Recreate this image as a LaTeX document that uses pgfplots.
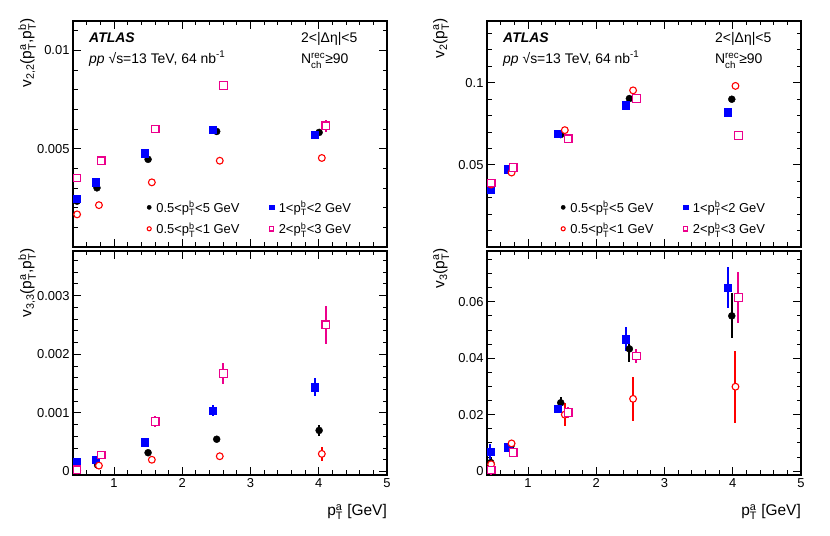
\documentclass[border=0pt]{standalone}
\usepackage{fontspec}
\setmainfont{Liberation Sans}
\usepackage{amsmath}
\usepackage{pgfplots}
\usepackage{pgfplotstable}
\pgfplotsset{compat=1.18}
\newcommand{\pT}[1]{p$^{\text{#1}}_{\text{T}}$}
\newcommand{\fs}{\fontsize{14}{16}\selectfont}

% ---- data: x, y, error ----
% top left v22
\pgfplotstableread{
x y e
0.459 0.00233 0.00002
0.751 0.00301 0.00002
1.500 0.00446 0.00003
2.505 0.00588 0.00004
4.006 0.00583 0.00008
}\tlA
\pgfplotstableread{
x y e
0.455 0.00247 0.00002
0.731 0.00329 0.00002
1.447 0.00478 0.00003
2.447 0.00598 0.00005
3.943 0.00571 0.00010
}\tlB
\pgfplotstableread{
x y e
0.460 0.00166 0.00002
0.780 0.00213 0.00002
1.555 0.00329 0.00003
2.550 0.00439 0.00005
4.045 0.00453 0.00010
}\tlC
\pgfplotstableread{
x y e
0.460 0.00351 0.00003
0.814 0.00439 0.00004
1.604 0.00600 0.00006
2.602 0.00821 0.00012
4.104 0.00617 0.00030
}\tlD
% bottom left v33
\pgfplotstableread{
x y e
0.459 0.00003 0.00002
0.760 0.00011 0.00002
1.500 0.00032 0.00003
2.505 0.00055 0.00004
4.006 0.00070 0.00010
}\blA
\pgfplotstableread{
x y e
0.455 0.00016 0.00002
0.731 0.00020 0.00002
1.447 0.00050 0.00003
2.447 0.00104 0.00010
3.943 0.00144 0.00015
}\blB
\pgfplotstableread{
x y e
0.460 0.00002 0.00002
0.780 0.00010 0.00002
1.555 0.00020 0.00003
2.550 0.00026 0.00005
4.045 0.00030 0.00012
}\blC
\pgfplotstableread{
x y e
0.460 0.00003 0.00008
0.814 0.00028 0.00003
1.604 0.00085 0.00009
2.602 0.00167 0.00018
4.104 0.00250 0.00032
}\blD
% top right v2
\pgfplotstableread{
x y e
0.455 0.0370 0.0003
0.750 0.0459 0.0003
1.480 0.0684 0.0004
2.486 0.0903 0.0006
3.986 0.0899 0.0010
}\trA
\pgfplotstableread{
x y e
0.450 0.0350 0.0003
0.710 0.0474 0.0003
1.435 0.0688 0.0004
2.430 0.0862 0.0007
3.930 0.0820 0.0012
}\trB
\pgfplotstableread{
x y e
0.460 0.0380 0.0003
0.760 0.0453 0.0003
1.540 0.0711 0.0005
2.540 0.0953 0.0008
4.040 0.0980 0.0012
}\trC
\pgfplotstableread{
x y e
0.460 0.0389 0.0004
0.785 0.0484 0.0005
1.590 0.0658 0.0006
2.590 0.0903 0.0010
4.084 0.0678 0.0030
}\trD
% bottom right v3
\pgfplotstableread{
x y e
0.455 0.0030 0.0015
0.750 0.0089 0.0008
1.480 0.0242 0.0022
2.486 0.0433 0.0046
3.986 0.0550 0.0080
}\brA
\pgfplotstableread{
x y e
0.450 0.0069 0.0028
0.710 0.0085 0.0008
1.435 0.0221 0.0010
2.430 0.0467 0.0043
3.930 0.0650 0.0072
}\brB
\pgfplotstableread{
x y e
0.460 0.0024 0.0020
0.760 0.0098 0.0008
1.540 0.0200 0.0040
2.540 0.0256 0.0078
4.040 0.0299 0.0127
}\brC
\pgfplotstableread{
x y e
0.460 0.0004 0.0020
0.785 0.0066 0.0010
1.590 0.0208 0.0020
2.590 0.0408 0.0024
4.084 0.0615 0.0089
}\brD

\pgfplotsset{
 panel/.style={
  scale only axis, width=314bp, xmin=0.4, xmax=5,
  axis line style={line width=1.1bp},
  tick align=inside,
  tick style={black, line width=0.8bp},
  major tick length=8bp, minor tick length=4.5bp,
  xtick={1,2,3,4,5},
  minor xtick={0.6,0.8,1.2,1.4,1.6,1.8,2.2,2.4,2.6,2.8,3.2,3.4,3.6,3.8,4.2,4.4,4.6,4.8},
  scaled y ticks=false,
  /pgf/number format/assume math mode=true,
  /pgf/number format/fixed,
  /pgf/number format/precision=3,
  tick label style={font=\fontsize{13}{15}\selectfont},
  label style={font=\fontsize{15.5}{18}\selectfont},
  ylabel style={at={(axis description cs:-0.146,1.012)}, anchor=east, inner sep=0pt},
  xlabel style={at={(axis description cs:1,-0.165)}, anchor=east, inner sep=0pt},
  legend columns=2,
  legend style={draw=none, fill=none, inner sep=0pt, outer sep=0pt,
    at={(axis description cs:0.2293,0.128)}, anchor=west, font=\fontsize{13}{15}\selectfont,
    row sep=3bp, nodes={inner sep=3bp}},
  legend image code/.code={\path (-4bp,0bp) (4bp,0bp);
    \draw[##1, every mark/.append style={scale=0.6}] plot coordinates {(0bp,0bp)};},
 },
 toppanel/.style={height=226bp, xticklabels={}},
 botpanel/.style={height=224bp, xlabel={\pT{a} [GeV]}},
 err/.style={forget plot, only marks, mark=none, #1,
   error bars/.cd, y dir=both, y explicit, error mark=none,
   error bar style={line width=2bp, #1}},
 sblk/.style={only marks, black, mark=*, mark size=3.5bp},
 sblu/.style={only marks, blue, mark=square*, mark size=3.7bp},
 sred/.style={only marks, red, mark=*, mark size=3.4bp,
   mark options={fill=white, draw=red, line width=1.1bp}},
 smag/.style={only marks, magenta, mark=square*, mark size=3.8bp,
   mark options={fill=white, draw=magenta, line width=1.2bp}},
}
\newcommand{\labels}{%
 \node[anchor=base west, inner sep=0pt, font=\fontsize{14}{16}\selectfont\bfseries\itshape] at (rel axis cs:0.051,0.907) {ATLAS};
 \node[anchor=base west, inner sep=0pt, font=\fs] at (rel axis cs:0.051,0.814) {\textit{pp} √s=13 TeV, 64 nb\textsuperscript{-1}};
 \node[anchor=base west, inner sep=0pt, font=\fs] at (rel axis cs:0.726,0.903) {2<|Δη|<5};
 \node[anchor=base west, inner sep=0pt, font=\fs] at (rel axis cs:0.726,0.81) {N$^{\text{rec}}_{\text{ch}}$≥90};
}
\begin{document}
\begin{tikzpicture}
\path (0,0) rectangle (830bp,536bp);

% ---------- top left: v22 ----------
\begin{axis}[panel, toppanel, at={(73bp,289bp)}, anchor=south west,
  ymin=0, ymax=0.0115, ytick={0.005,0.01},
  minor ytick={0.001,0.002,0.003,0.004,0.006,0.007,0.008,0.009,0.011},
  ylabel={v$_{\text{2,2}}$(\pT{a},\pT{b})}]
\addplot[err=black] table[x=x,y=y,y error=e] {\tlA};
\addplot[sblk] table[x=x,y=y] {\tlA};
\addlegendentry{\makebox[108bp][l]{0.5<\pT{b}<5 GeV}}
\addplot[err=blue] table[x=x,y=y,y error=e] {\tlB};
\addplot[sblu] table[x=x,y=y] {\tlB};
\addlegendentry{1<\pT{b}<2 GeV}
\addplot[err=red] table[x=x,y=y,y error=e] {\tlC};
\addplot[sred] table[x=x,y=y] {\tlC};
\addlegendentry{\makebox[108bp][l]{0.5<\pT{b}<1 GeV}}
\addplot[err=magenta] table[x=x,y=y,y error=e] {\tlD};
\addplot[smag] table[x=x,y=y] {\tlD};
\addlegendentry{2<\pT{b}<3 GeV}
\labels
\end{axis}

% ---------- bottom left: v33 ----------
\begin{axis}[panel, botpanel, at={(73bp,61bp)}, anchor=south west,
  ymin=-0.00006, ymax=0.00376, ytick={0,0.001,0.002,0.003},
  minor ytick={0.0002,0.0004,0.0006,0.0008,0.0012,0.0014,0.0016,0.0018,0.0022,0.0024,0.0026,0.0028,0.0032,0.0034,0.0036},
  ylabel={v$_{\text{3,3}}$(\pT{a},\pT{b})}]
\addplot[err=black] table[x=x,y=y,y error=e] {\blA};
\addplot[sblk] table[x=x,y=y] {\blA};
\addplot[err=blue] table[x=x,y=y,y error=e] {\blB};
\addplot[sblu] table[x=x,y=y] {\blB};
\addplot[err=red] table[x=x,y=y,y error=e] {\blC};
\addplot[sred] table[x=x,y=y] {\blC};
\addplot[err=magenta] table[x=x,y=y,y error=e] {\blD};
\addplot[smag] table[x=x,y=y] {\blD};
\end{axis}

% ---------- top right: v2 ----------
\begin{axis}[panel, toppanel, at={(487bp,289bp)}, anchor=south west,
  ymin=0, ymax=0.1375, ytick={0.05,0.1},
  minor ytick={0.01,0.02,0.03,0.04,0.06,0.07,0.08,0.09,0.11,0.12,0.13},
  ylabel={v$_{\text{2}}$(\pT{a})}]
\addplot[err=black] table[x=x,y=y,y error=e] {\trA};
\addplot[sblk] table[x=x,y=y] {\trA};
\addlegendentry{\makebox[108bp][l]{0.5<\pT{b}<5 GeV}}
\addplot[err=blue] table[x=x,y=y,y error=e] {\trB};
\addplot[sblu] table[x=x,y=y] {\trB};
\addlegendentry{1<\pT{b}<2 GeV}
\addplot[err=red] table[x=x,y=y,y error=e] {\trC};
\addplot[sred] table[x=x,y=y] {\trC};
\addlegendentry{\makebox[108bp][l]{0.5<\pT{b}<1 GeV}}
\addplot[err=magenta] table[x=x,y=y,y error=e] {\trD};
\addplot[smag] table[x=x,y=y] {\trD};
\addlegendentry{2<\pT{b}<3 GeV}
\labels
\end{axis}

% ---------- bottom right: v3 ----------
\begin{axis}[panel, botpanel, at={(487bp,61bp)}, anchor=south west,
  ymin=-0.0014, ymax=0.078, ytick={0,0.02,0.04,0.06},
  minor ytick={0.005,0.01,0.015,0.025,0.03,0.035,0.045,0.05,0.055,0.065,0.07,0.075},
  ylabel={v$_{\text{3}}$(\pT{a})}]
\addplot[err=black] table[x=x,y=y,y error=e] {\brA};
\addplot[sblk] table[x=x,y=y] {\brA};
\addplot[err=blue] table[x=x,y=y,y error=e] {\brB};
\addplot[sblu] table[x=x,y=y] {\brB};
\addplot[err=red] table[x=x,y=y,y error=e] {\brC};
\addplot[sred] table[x=x,y=y] {\brC};
\addplot[err=magenta] table[x=x,y=y,y error=e] {\brD};
\addplot[smag] table[x=x,y=y] {\brD};
\end{axis}
\end{tikzpicture}
\end{document}
